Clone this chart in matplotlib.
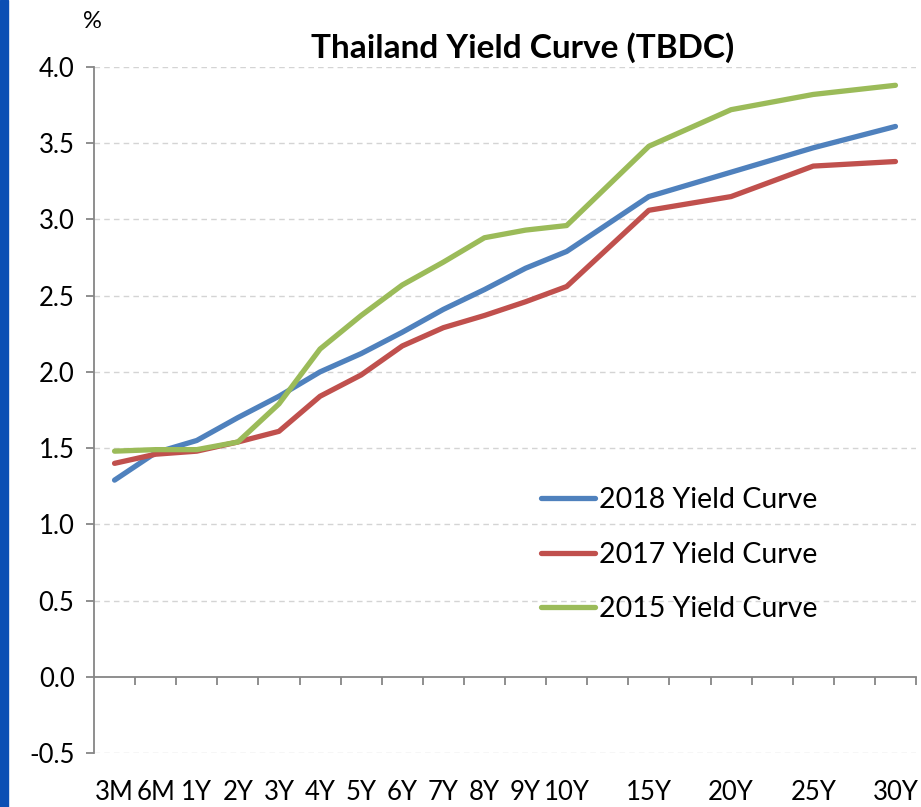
#!/usr/bin/env python3
"""Thailand yield curve (TBDC) - 2018 vs 2017 vs 2015."""

import numpy as np
import matplotlib
matplotlib.use("Agg")
import matplotlib.pyplot as plt
from matplotlib.patches import Rectangle

# Category axis (blank slots keep the uneven spacing of the original)
tenors = ['3M', '6M', '1Y', '2Y', '3Y', '4Y', '5Y', '6Y', '7Y', '8Y', '9Y', '10Y',
          '', '15Y', '', '20Y', '', '25Y', '', '30Y']

yield_2018 = [1.29, 1.47, 1.55, 1.70, 1.84, 2.00, 2.12, 2.26, 2.41, 2.54, 2.68, 2.79,
              3.15, 3.31, 3.47, 3.61]
yield_2017 = [1.40, 1.46, 1.48, 1.54, 1.61, 1.84, 1.98, 2.17, 2.29, 2.37, 2.46, 2.56,
              3.06, 3.15, 3.35, 3.38]
yield_2015 = [1.48, 1.49, 1.49, 1.54, 1.79, 2.15, 2.37, 2.57, 2.72, 2.88, 2.93, 2.96,
              3.48, 3.72, 3.82, 3.88]

series_names = ['2018 Yield Curve', '2017 Yield Curve', '2015 Yield Curve']
series_colors = ['#4F81BD', '#C0504D', '#9BBB59']

yticks = [-0.5, 0.0, 0.5, 1.0, 1.5, 2.0, 2.5, 3.0, 3.5, 4.0]

plt.rcParams['font.family'] = ['Lato', 'DejaVu Sans']

fig = plt.figure(figsize=(9.21, 8.07), dpi=100)
ax = fig.add_axes([94 / 921, 54 / 807, 822 / 921, 686 / 807])

# blue strip down the left edge
fig.patches.append(Rectangle((0, 0), 8 / 921, 1, transform=fig.transFigure,
                             color='#0B4FB4', zorder=0))

pos = [i for i, t in enumerate(tenors) if t]
for vals, name, col in zip([yield_2018, yield_2017, yield_2015], series_names, series_colors):
    ax.plot(pos, vals, color=col, lw=3.8, solid_capstyle='round',
            solid_joinstyle='round', label=name, zorder=3)

ax.set_xlim(-0.5, len(tenors) - 0.5)
ax.set_ylim(-0.5, 4.0)

# gridlines
ax.set_yticks(yticks)
ax.set_yticklabels([f'{v:.1f}' for v in yticks], fontsize=18.5)
for v in yticks:
    if v != 0.0:
        ax.axhline(v, color='#D4D4D4', lw=1.0, ls=(0, (4, 3)), zorder=1)

for s in ['top', 'right']:
    ax.spines[s].set_visible(False)
ax.spines['left'].set_color('#868686')
ax.spines['left'].set_linewidth(1.3)
ax.spines['bottom'].set_position(('data', 0.0))
ax.spines['bottom'].set_color('#868686')
ax.spines['bottom'].set_linewidth(1.3)

ax.tick_params(axis='y', direction='out', length=6, width=1.3, color='#868686', pad=8)

ax.set_xticks(range(len(tenors)))
ax.set_xticklabels(tenors, fontsize=18.5)
ax.set_xticks(np.arange(0.5, len(tenors), 1.0), minor=True)
ax.tick_params(axis='x', which='major', length=0, pad=74)
ax.tick_params(axis='x', which='minor', direction='out', length=6, width=1.3, color='#868686')

fig.text(92 / 921, 1 - 22 / 807, '%', fontsize=17, ha='center', va='center')
fig.text(523 / 921, 1 - 48 / 807, 'Thailand Yield Curve (TBDC)', fontsize=24,
         fontweight='bold', ha='center', va='center')

leg = ax.legend(loc='upper left', bbox_to_anchor=(0.530, 0.404), frameon=False,
                fontsize=20.5, handlelength=1.9, handletextpad=0.15, labelspacing=1.0,
                borderaxespad=0)

fig.savefig('out.png', dpi=100)
